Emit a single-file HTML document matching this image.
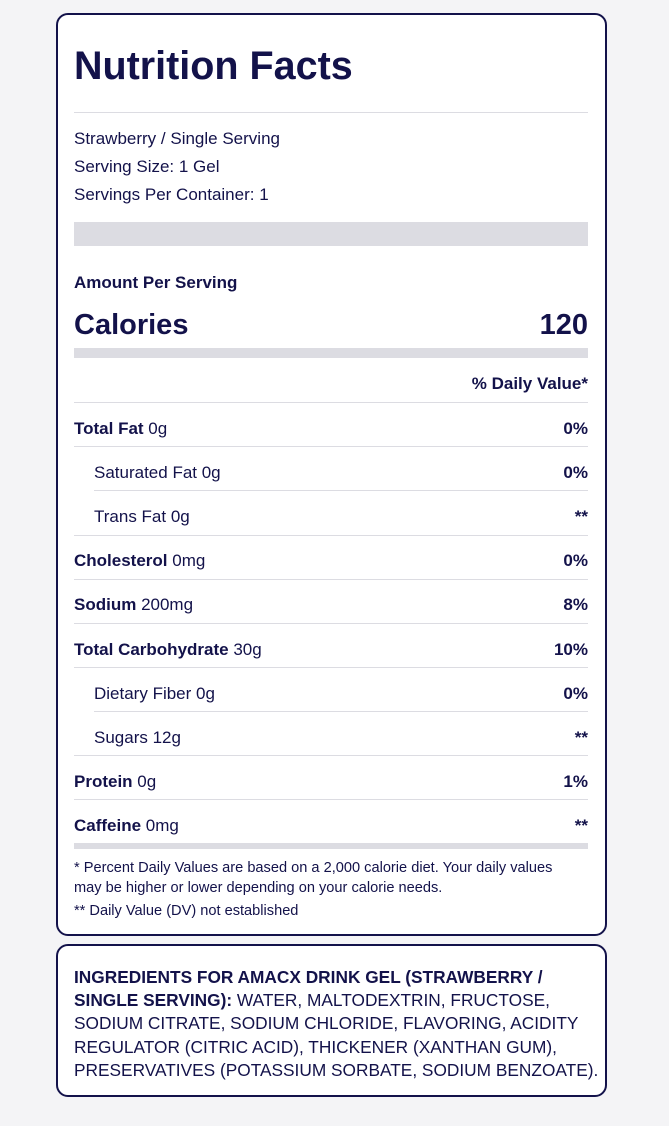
<!DOCTYPE html>
<html><head><style>
*{margin:0;padding:0;box-sizing:border-box}
body{width:669px;height:1126px;background:#f4f4f6;font-family:"Liberation Sans",Arial,sans-serif;color:#13124a;position:relative;overflow:hidden}
.card{position:absolute;left:56px;width:551px;background:#fff;border:2px solid #13124a;border-radius:12px}
.a{position:absolute;left:74px;white-space:nowrap}
.r{position:absolute;right:81px;white-space:nowrap;font-weight:bold;font-size:17px}
.hl{position:absolute;left:74px;width:514px;height:1px;background:#dcdce2}
.bar{position:absolute;left:74px;width:514px;background:#dcdce2}
.t{font-size:17px}
</style></head><body>
<div class="card" style="top:13px;height:923px"></div>
<div class="card" style="top:944px;height:153px"></div>
<div class="a" style="top:44px;font-size:39.5px;font-weight:bold">Nutrition Facts</div>
<div class="hl" style="top:112px"></div>
<div class="a t" style="top:129px">Strawberry / Single Serving</div>
<div class="a t" style="top:157px">Serving Size: 1 Gel</div>
<div class="a t" style="top:185px">Servings Per Container: 1</div>
<div class="bar" style="top:222px;height:24px"></div>
<div class="a t" style="top:273px;font-weight:bold">Amount Per Serving</div>
<div class="a" style="top:309px;font-size:29px;font-weight:bold">Calories</div>
<div class="r" style="top:309px;font-size:29px">120</div>
<div class="bar" style="top:348px;height:10px"></div>
<div class="r" style="top:374px">% Daily Value*</div>
<div class="hl" style="top:402px"></div>
<div class="a t" style="top:419px"><b>Total Fat</b> 0g</div><div class="r" style="top:419px">0%</div>
<div class="hl" style="top:446px"></div>
<div class="a t" style="top:463px;left:94px">Saturated Fat 0g</div><div class="r" style="top:463px">0%</div>
<div class="hl" style="top:490px;left:94px;width:494px"></div>
<div class="a t" style="top:507px;left:94px">Trans Fat 0g</div><div class="r" style="top:507px">**</div>
<div class="hl" style="top:535px"></div>
<div class="a t" style="top:551px"><b>Cholesterol</b> 0mg</div><div class="r" style="top:551px">0%</div>
<div class="hl" style="top:579px"></div>
<div class="a t" style="top:595px"><b>Sodium</b> 200mg</div><div class="r" style="top:595px">8%</div>
<div class="hl" style="top:623px"></div>
<div class="a t" style="top:640px"><b>Total Carbohydrate</b> 30g</div><div class="r" style="top:640px">10%</div>
<div class="hl" style="top:667px"></div>
<div class="a t" style="top:684px;left:94px">Dietary Fiber 0g</div><div class="r" style="top:684px">0%</div>
<div class="hl" style="top:711px;left:94px;width:494px"></div>
<div class="a t" style="top:728px;left:94px">Sugars 12g</div><div class="r" style="top:728px">**</div>
<div class="hl" style="top:755px"></div>
<div class="a t" style="top:772px"><b>Protein</b> 0g</div><div class="r" style="top:772px">1%</div>
<div class="hl" style="top:799px"></div>
<div class="a t" style="top:816px"><b>Caffeine</b> 0mg</div><div class="r" style="top:816px">**</div>
<div class="bar" style="top:843px;height:6px"></div>
<div class="a" style="top:858px;font-size:14.6px;line-height:20px">* Percent Daily Values are based on a 2,000 calorie diet. Your daily values<br>may be higher or lower depending on your calorie needs.</div>
<div class="a" style="top:903px;font-size:14.6px">** Daily Value (DV) not established</div>
<div class="a" style="top:966px;font-size:17.3px;line-height:23.2px"><b>INGREDIENTS FOR AMACX DRINK GEL (STRAWBERRY /</b><br><b>SINGLE SERVING):</b> WATER, MALTODEXTRIN, FRUCTOSE,<br>SODIUM CITRATE, SODIUM CHLORIDE, FLAVORING, ACIDITY<br>REGULATOR (CITRIC ACID), THICKENER (XANTHAN GUM),<br>PRESERVATIVES (POTASSIUM SORBATE, SODIUM BENZOATE).</div>
</body></html>
